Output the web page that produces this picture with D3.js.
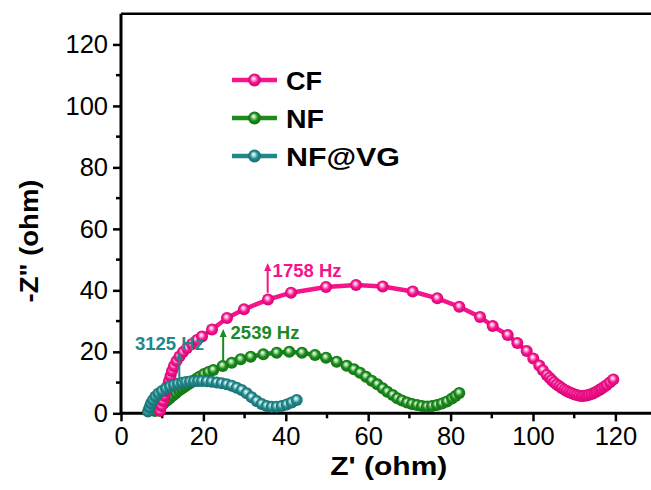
<!DOCTYPE html>
<html><head><meta charset="utf-8">
<script src="https://cdn.jsdelivr.net/npm/d3@7"></script>
<style>html,body{margin:0;padding:0;background:#fff;overflow:hidden}svg{display:block}</style>
</head><body>
<svg id="chart" width="651" height="490"></svg>
<script>
// ---- data (Z' , -Z'') in ohm ----
const seriesNames = ["CF", "NF", "NF@VG"];
const cfX = [9.47,9.83,10.19,10.56,10.92,11.29,11.65,12.01,12.38,12.86,13.47,14.20,15.05,16.02,17.23,18.45,19.66,22.09,25.73,29.85,35.68,41.26,49.76,57.04,63.52,70.80,76.77,82.11,87.14,90.22,93.86,96.19,98.47,100.07,101.53,102.4,103.33,104.0,104.54,105.1,105.75,106.4,106.97,107.6,108.18,108.8,109.39,110.0,110.61,111.2,111.82,112.4,113.03,113.6,114.25,114.9,115.46,116.1,116.67,117.3,117.89,118.7,119.49];
const cfY = [0.75,2.37,4.0,5.63,7.26,8.88,10.51,12.14,13.76,15.39,17.01,18.48,19.94,21.24,22.54,23.85,24.98,27.26,30.99,33.83,37.02,39.23,41.09,41.74,41.25,39.62,37.41,34.68,31.33,28.40,25.47,22.87,20.27,17.83,15.55,14.0,12.46,11.6,10.83,10.1,9.37,8.8,8.23,7.7,7.25,6.85,6.51,6.2,5.95,5.75,5.63,5.68,5.79,6.0,6.28,6.65,7.09,7.55,8.07,8.6,9.21,10.1,11.0];
const nfX = [8.25,8.98,9.71,10.44,11.17,11.89,12.62,13.35,14.08,14.81,15.53,16.26,16.99,17.72,18.45,19.17,20.15,21.24,22.40,24.68,26.87,29.05,31.48,34.54,37.79,40.85,43.93,47.09,49.76,52.35,54.78,56.55,58.01,59.47,60.85,62.21,63.52,64.64,65.95,67.06,68.20,69.42,70.63,71.84,73.06,74.27,75.49,76.70,77.91,79.13,80.34,81.2,82.11];
const nfY = [0.75,1.72,2.54,3.35,4.16,4.98,5.79,6.60,7.42,8.07,8.72,9.37,10.02,10.67,11.32,11.97,12.78,13.44,14.09,15.39,16.46,17.57,18.41,19.19,19.71,20.04,19.71,18.97,18.09,16.79,15.48,14.31,13.21,11.91,10.61,9.43,8.13,7.03,5.95,4.88,4.16,3.51,3.03,2.70,2.37,2.21,2.37,2.70,3.19,3.84,4.81,5.6,6.60];
const vgX = [6.55,6.92,7.28,7.77,8.37,9.10,9.95,10.92,11.89,12.86,13.83,14.81,15.78,16.75,17.72,18.69,19.66,20.80,22.01,23.23,24.44,25.66,26.87,28.08,29.30,30.51,31.72,32.94,34.15,35.36,36.58,37.79,39.00,40.22,41.43,42.65];
const vgY = [0.59,1.89,3.19,4.33,5.47,6.44,7.25,8.07,8.72,9.21,9.63,9.95,10.18,10.34,10.44,10.51,10.51,10.44,10.28,10.02,9.76,9.43,8.98,8.33,7.58,6.51,5.20,4.00,3.03,2.37,2.11,2.15,2.37,2.86,3.51,4.33];
const xTicks = [0,20,40,60,80,100,120];
const yTicks = [0,20,40,60,80,100,120];
const annLabels = ["1758 Hz", "2539 Hz", "3125 Hz"];
const annArrowX = [35.6, 24.8, 14.15];
const annArrowY0 = [39.2, 16.8, 10.3];
const annArrowY1 = [48.9, 27.4, 20.0];
const annTextX = [36.8, 26.6, 3.4];
const annTextY = [44.3, 24.1, 20.6];

const colors = ["#F5148C", "#1C8A1C", "#22878A"];
const lightColors = ["#FFB3DA", "#A8E0A8", "#A6DEDF"];
const darkColors = ["#D0006E", "#0E6E0E", "#146A6C"];

const svg = d3.select("#chart");
const x = d3.scaleLinear().domain([0,130]).range([121, 656.6]);
const y = d3.scaleLinear().domain([0,130]).range([413.3, 13.7]);

// gradients for the spherical markers
const defs = svg.append("defs");
colors.forEach((c,i)=>{
  const g = defs.append("radialGradient").attr("id","g"+i)
    .attr("cx","50%").attr("cy","50%").attr("r","55%").attr("fx","42%").attr("fy","35%");
  g.append("stop").attr("offset","0%").attr("stop-color","#ffffff");
  g.append("stop").attr("offset","22%").attr("stop-color",lightColors[i]);
  g.append("stop").attr("offset","55%").attr("stop-color",c);
  g.append("stop").attr("offset","100%").attr("stop-color",darkColors[i]);
});

const font = "Arial, 'Liberation Sans', Helvetica, sans-serif";

// frame (top line)
svg.append("line").attr("x1",x(0)).attr("x2",651).attr("y1",y(130)).attr("y2",y(130))
  .attr("stroke","#000").attr("stroke-width",2.5);

// axes
const xAxis = d3.axisBottom(x).tickValues(xTicks).tickSize(8).tickPadding(6).tickFormat(d3.format("d"));
const gx = svg.append("g").attr("transform",`translate(0,${y(0)})`).call(xAxis);
const yAxis = d3.axisLeft(y).tickValues(yTicks).tickSize(8).tickPadding(5).tickFormat(d3.format("d"));
const gy = svg.append("g").attr("transform",`translate(${x(0)},0)`).call(yAxis);
[gx,gy].forEach(g=>{
  g.select(".domain").attr("stroke","#000").attr("stroke-width",3);
  g.selectAll(".tick line").attr("stroke","#000").attr("stroke-width",2.5);
  g.selectAll(".tick text").attr("font-family",font).attr("font-size",25.5).attr("fill","#000");
});
gx.select(".domain").attr("d",`M${x(0)},0H651`);
gy.select(".domain").attr("d",`M0,${y(0)}V${y(130)}`);
// minor ticks
const xMinor = [10,30,50,70,90,110];
const yMinor = [10,30,50,70,90,110];
svg.append("g").selectAll("line").data(xMinor).join("line")
  .attr("x1",d=>x(d)).attr("x2",d=>x(d)).attr("y1",y(0)).attr("y2",y(0)+5)
  .attr("stroke","#000").attr("stroke-width",2.5);
svg.append("g").selectAll("line").data(yMinor).join("line")
  .attr("y1",d=>y(d)).attr("y2",d=>y(d)).attr("x1",x(0)).attr("x2",x(0)-5)
  .attr("stroke","#000").attr("stroke-width",2.5);

// axis titles
svg.append("text").attr("x",(x(0)+x(130))/2).attr("y",475).attr("text-anchor","middle")
  .attr("font-family",font).attr("font-weight","bold").attr("font-size",25)
  .attr("textLength",117).attr("lengthAdjust","spacingAndGlyphs").text("Z' (ohm)");
svg.append("text").attr("transform",`translate(38,241) rotate(-90)`).attr("text-anchor","middle")
  .attr("font-family",font).attr("font-weight","bold").attr("font-size",25)
  .attr("textLength",123).attr("lengthAdjust","spacingAndGlyphs").text('-Z" (ohm)');

// series
const series = [
  {name:seriesNames[0], xs:cfX, ys:cfY},
  {name:seriesNames[1], xs:nfX, ys:nfY},
  {name:seriesNames[2], xs:vgX, ys:vgY}
];
const drawOrder = [1,0,2];
const line = d3.line().x(d=>x(d[0])).y(d=>y(d[1]));
drawOrder.forEach(i=>{
  const s = series[i];
  const pts = s.xs.map((v,k)=>[v, s.ys[k]]);
  const g = svg.append("g");
  g.append("path").attr("d",line(pts)).attr("fill","none").attr("stroke",colors[i]).attr("stroke-width",4.5);
  g.selectAll("circle").data(pts).join("circle")
    .attr("cx",d=>x(d[0])).attr("cy",d=>y(d[1])).attr("r",6)
    .attr("fill",`url(#g${i})`);
});

// annotations
const annColors = [colors[0], colors[1], colors[2]];
annLabels.forEach((lab,i)=>{
  const ax = x(annArrowX[i]), ya = y(annArrowY0[i]), yb = y(annArrowY1[i]);
  svg.append("line").attr("x1",ax).attr("x2",ax).attr("y1",ya).attr("y2",yb+5)
    .attr("stroke",annColors[i]).attr("stroke-width",2);
  svg.append("path").attr("d",`M${ax},${yb}L${ax-3.5},${yb+8}L${ax+3.5},${yb+8}Z`).attr("fill",annColors[i]);
  svg.append("text").attr("x",x(annTextX[i])).attr("y",y(annTextY[i]))
    .attr("font-family",font).attr("font-weight","bold").attr("font-size",18.5)
    .attr("fill",annColors[i]).text(lab);
});

// legend
const legY = [80, 118, 156];
seriesNames.forEach((n,i)=>{
  const g = svg.append("g");
  g.append("line").attr("x1",232).attr("x2",277).attr("y1",legY[i]).attr("y2",legY[i])
    .attr("stroke",colors[i]).attr("stroke-width",4.5);
  g.append("circle").attr("cx",254.5).attr("cy",legY[i]).attr("r",6.5).attr("fill",`url(#g${i})`);
  g.append("text").attr("x",286).attr("y",legY[i]+9.5)
    .attr("font-family",font).attr("font-weight","bold").attr("font-size",26)
    .attr("textLength",[36,38,114][i]).attr("lengthAdjust","spacingAndGlyphs").text(n);
});
</script>
</body></html>
